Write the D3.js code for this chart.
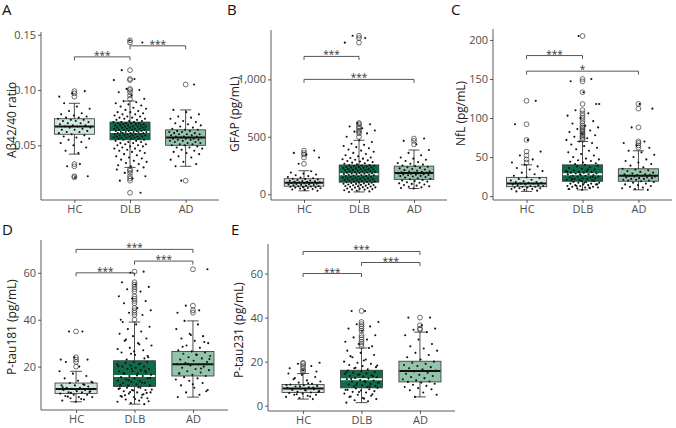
<!DOCTYPE html>
<html>
<head>
<meta charset="utf-8">
<script src="https://cdn.jsdelivr.net/npm/d3@7"></script>
<style>
body { margin: 0; background: #fff; }
svg { display: block; font-family: "Open Sans", sans-serif; }
</style>
</head>
<body>
<script>
var groups = ["HC", "DLB", "AD"]

// box stats per group: [lower whisker, q1, median, q3, upper whisker]
var abStats = [[0.042, 0.060, 0.067, 0.074, 0.088], [0.030, 0.055, 0.062, 0.071, 0.090], [0.031, 0.050, 0.057, 0.064, 0.082]]
var abOutliers = [[0.099, 0.097, 0.094, 0.033, 0.031, 0.022, 0.021],
    [0.092, 0.095, 0.098, 0.100, 0.101, 0.109, 0.110, 0.118, 0.143, 0.145, 0.028, 0.027, 0.025, 0.022, 0.020, 0.018, 0.007],
    [0.105, 0.018]]
var abHC = [0.043, 0.045, 0.048, 0.050, 0.052, 0.053, 0.055, 0.056, 0.057, 0.058, 0.059, 0.060, 0.061, 0.062, 0.062, 0.063, 0.064, 0.064, 0.065, 0.066, 0.066, 0.067, 0.067, 0.068, 0.068, 0.069, 0.070, 0.070, 0.071, 0.072, 0.072, 0.073, 0.073, 0.074, 0.075, 0.075, 0.076, 0.077, 0.078, 0.079, 0.081, 0.083, 0.085, 0.088, 0.099, 0.097, 0.094, 0.033, 0.031, 0.022, 0.021]
var abDLB = [0.030, 0.031, 0.032, 0.033, 0.034, 0.035, 0.036, 0.037, 0.038, 0.039, 0.040, 0.041, 0.042, 0.043, 0.044, 0.045, 0.045, 0.046, 0.047, 0.047, 0.048, 0.049, 0.049, 0.050, 0.050, 0.051, 0.051, 0.052, 0.052, 0.053, 0.053, 0.054, 0.054, 0.055, 0.055,
    0.056, 0.056, 0.056, 0.057, 0.057, 0.057, 0.057, 0.058, 0.058, 0.058, 0.058, 0.059, 0.059, 0.059, 0.059, 0.060, 0.060, 0.060, 0.060, 0.061, 0.061, 0.061, 0.061, 0.062, 0.062, 0.062, 0.062, 0.062, 0.063, 0.063, 0.063, 0.063, 0.064, 0.064, 0.064, 0.064, 0.065, 0.065, 0.065, 0.065, 0.066, 0.066, 0.066, 0.066, 0.067, 0.067, 0.067, 0.067, 0.068, 0.068, 0.068, 0.068, 0.069, 0.069, 0.069, 0.070, 0.070, 0.070, 0.070, 0.071, 0.071, 0.071,
    0.072, 0.072, 0.073, 0.073, 0.074, 0.074, 0.075, 0.075, 0.076, 0.076, 0.077, 0.078, 0.078, 0.079, 0.080, 0.080, 0.081, 0.082, 0.083, 0.084, 0.085, 0.086, 0.087, 0.088, 0.089, 0.090,
    0.092, 0.095, 0.098, 0.100, 0.101, 0.109, 0.110, 0.118, 0.143, 0.145, 0.028, 0.027, 0.025, 0.022, 0.020, 0.018, 0.007]
var abAD = [0.031, 0.033, 0.035, 0.037, 0.039, 0.040, 0.042, 0.043, 0.044, 0.045, 0.046, 0.047, 0.048, 0.048, 0.049, 0.050, 0.050,
    0.051, 0.051, 0.052, 0.052, 0.053, 0.053, 0.054, 0.054, 0.055, 0.055, 0.055, 0.056, 0.056, 0.056, 0.057, 0.057, 0.057, 0.058, 0.058, 0.058, 0.059, 0.059, 0.060, 0.060, 0.060, 0.061, 0.061, 0.062, 0.062, 0.063, 0.063, 0.064, 0.064,
    0.065, 0.066, 0.067, 0.068, 0.069, 0.070, 0.071, 0.072, 0.074, 0.075, 0.076, 0.078, 0.080, 0.082, 0.105, 0.018]
var abTicks = [0.05, 0.10, 0.15]
var abBrackets = [["HC", "DLB", 0.130, "***"], ["DLB", "AD", 0.140, "***"]]

var gfapStats = [[30, 70, 100, 135, 205], [20, 105, 175, 255, 470], [50, 130, 185, 245, 385]]
var gfapOutliers = [[265, 320, 345, 360, 380],
    [500, 530, 545, 555, 575, 590, 610, 620, 1320, 1360, 1380],
    [435, 465, 485]]
var gfapHC = [30, 38, 42, 45, 50, 52, 55, 58, 60, 62, 65, 68, 70, 72, 75, 78, 80, 82, 85, 88, 90, 92, 95, 98, 100, 102, 105, 108, 110, 112, 115, 118, 120, 124, 128, 132, 135, 140, 145, 150, 158, 165, 172, 180, 190, 200, 265, 320, 345, 360, 380]
var gfapDLB = [20, 25, 30, 35, 40, 42, 45, 48, 50, 55, 58, 60, 62, 65, 68, 70, 72, 75, 78, 80, 82, 85, 88, 90, 92, 95, 98, 100, 102, 105,
    108, 110, 112, 115, 118, 120, 122, 125, 128, 130, 132, 135, 138, 140, 142, 145, 148, 150, 152, 155, 158, 160, 162, 165, 168, 170, 172, 175, 176, 178, 180, 182, 185, 188, 190, 192, 195, 198, 200, 202, 205, 208, 210, 212, 215, 218, 220, 222, 225, 228, 230, 232, 235, 238, 240, 242, 245, 248, 250, 252, 255,
    260, 265, 270, 275, 280, 285, 290, 295, 300, 305, 310, 315, 320, 330, 340, 350, 360, 370, 380, 390, 400, 410, 420, 430, 440, 455, 470,
    500, 530, 545, 555, 575, 590, 610, 620, 1320, 1360, 1380]
var gfapAD = [50, 55, 60, 65, 70, 75, 80, 85, 90, 95, 100, 105, 110, 115, 120, 125, 130,
    135, 140, 145, 150, 155, 158, 160, 165, 168, 170, 172, 175, 178, 180, 182, 185, 188, 190, 192, 195, 198, 200, 205, 210, 215, 220, 225, 230, 235, 240, 245,
    250, 258, 265, 272, 280, 290, 300, 310, 320, 340, 360, 385, 435, 465, 485]
var gfapTicks = [0, 500, 1000]
var gfapBrackets = [["HC", "DLB", 1200, "***"], ["HC", "AD", 1000, "***"]]

var nflStats = [[6, 12, 16, 24, 40], [8, 19, 28, 40, 70], [8, 19, 26, 35, 58]]
var nflOutliers = [[43, 47, 52, 57, 72, 92, 122],
    [72, 74, 76, 78, 80, 82, 84, 86, 88, 90, 93, 96, 100, 103, 106, 110, 118, 133, 147, 150, 205],
    [62, 65, 68, 70, 88, 112, 118]]
var nflHC = [6, 7, 8, 9, 9, 10, 10, 11, 11, 12, 12, 13, 13, 14, 14, 15, 15, 16, 16, 17, 17, 18, 18, 19, 20, 21, 22, 23, 24, 26, 28, 30, 32, 34, 36, 38, 40, 43, 47, 52, 57, 72, 92, 122]
var nflDLB = [8, 9, 10, 10, 11, 11, 12, 12, 13, 13, 14, 14, 15, 15, 16, 16, 17, 17, 18, 18, 19, 19, 9, 11, 13, 15, 17,
    20, 20, 21, 21, 22, 22, 23, 23, 24, 24, 25, 25, 26, 26, 27, 27, 28, 28, 29, 29, 30, 30, 31, 31, 32, 32, 33, 34, 35, 36, 37, 38, 39, 40, 22, 25, 28, 31, 34,
    41, 42, 43, 44, 45, 46, 47, 48, 50, 52, 54, 56, 58, 60, 62, 64, 66, 68, 70,
    72, 74, 76, 78, 80, 82, 84, 86, 88, 90, 93, 96, 100, 103, 106, 110, 118, 133, 147, 150, 205, 118]
var nflAD = [8, 9, 10, 11, 12, 13, 14, 15, 16, 17, 18, 19, 20, 20, 21, 21, 22, 22, 23, 23, 24, 24, 25, 25, 26, 26, 27, 27, 28, 28, 29, 30, 31, 32, 33, 34, 35,
    37, 39, 41, 43, 45, 47, 50, 53, 56, 58, 62, 65, 68, 70, 88, 112, 118]
var nflTicks = [0, 50, 100, 150, 200]
var nflBrackets = [["HC", "DLB", 180, "***"], ["HC", "AD", 160, "*"]]

var pt181Stats = [[5, 8.5, 10.5, 13, 18], [4, 11.5, 16, 22.5, 39], [7, 16, 21, 26.5, 39.5]]
var pt181Outliers = [[20, 22, 23, 24, 35],
    [40, 42, 43, 44, 45, 47, 48, 49, 50, 52, 53, 54, 55, 56, 60.5],
    [43, 44, 46, 61.5]]
var pt181HC = [5, 5.5, 6, 6.5, 7, 7, 7.5, 8, 8, 8.5, 9, 9, 9.5, 9.5, 10, 10, 10.5, 10.5, 11, 11, 11.5, 12, 12, 12.5, 13, 13.5, 14, 15, 16, 17, 18,
    6.2, 7.2, 9.2, 10.2, 11.2, 12.2, 8.8, 13.2, 20, 22, 23, 24, 23, 35, 35]
var pt181DLB = [4, 4.5, 5, 5.5, 6, 6.5, 7, 7.5, 8, 8.5, 9, 9, 9.5, 10, 10, 10.5, 11, 11, 5.2, 6.2, 7.2, 8.2, 9.2, 10.2, 11.2, 7.8, 8.8, 9.8, 10.8, 6.8,
    12, 12, 12.5, 13, 13, 13.5, 14, 14, 14.5, 15, 15, 15.5, 16, 16, 16.5, 17, 17, 17.5, 18, 18, 18.5, 19, 19, 19.5, 20, 20, 20.5, 21, 21, 21.5, 22, 22,
    12.2, 13.2, 14.2, 15.2, 16.2, 17.2, 18.2, 19.2, 20.2, 21.2,
    23, 24, 25, 26, 27, 28, 29, 30, 31, 32, 33, 34, 35, 36, 37, 38, 39, 23.5, 25.5, 27.5, 29.5, 31.5, 24.5, 26.5,
    40, 42, 43, 44, 45, 47, 48, 49, 50, 52, 53, 54, 55, 56, 60.5, 60]
var pt181AD = [7, 8, 9, 10, 11, 12, 13, 14, 14.5, 15, 15.5, 16, 16.5, 17, 17.5, 18, 18.5, 19, 19.5, 20, 20.5, 21, 21, 21.5, 22, 22.5, 23, 23.5, 24, 24.5, 25, 25.5, 26, 26.5,
    27, 28, 29, 30, 31, 32, 33, 34, 36, 38, 39.5, 9.5, 12.5, 17.2, 19.2, 21.2, 23.2, 25.2, 28.5, 30.5, 33.5, 43, 44, 46, 61.5]
var pt181Ticks = [20, 40, 60]
var pt181Brackets = [["HC", "AD", 70, "***"], ["DLB", "AD", 65, "***"], ["HC", "DLB", 60, "***"]]

var pt231Stats = [[3, 6, 7.8, 9.6, 14.6], [1.4, 8.1, 12, 16.1, 26.2], [4, 10.8, 15.8, 20.2, 33.4]]
var pt231Outliers = [[15.5, 16, 17, 18, 19, 19.5],
    [27, 28, 29, 30, 31, 32, 34, 35, 36, 37, 38, 43],
    [34.5, 35, 36.5, 40]]
var pt231HC = [3, 3.5, 4, 4.5, 5, 5, 5.5, 5.8, 6, 6.3, 6.6, 6.9, 7.2, 7.5, 7.8, 8.1, 8.4, 8.7, 9, 9.3, 9.6, 10, 10.5, 11, 11.5, 12, 13, 14, 14.6,
    4.2, 5.2, 6.2, 7.1, 7.6, 8.2, 8.8, 9.4, 10.2, 12.5, 15.5, 16, 17, 18, 19, 19.5]
var pt231DLB = [1.4, 2, 2.5, 3, 3.5, 4, 4.5, 5, 5.5, 6, 6.3, 6.6, 6.9, 7.2, 7.5, 7.8, 8.1, 3.2, 4.2, 5.2, 6.2, 7.2,
    8.4, 8.7, 9, 9.3, 9.6, 9.9, 10.2, 10.5, 10.8, 11.1, 11.4, 11.7, 12, 12.3, 12.6, 12.9, 13.2, 13.5, 13.8, 14.1, 14.4, 14.7, 15, 15.3, 15.6, 16, 8.6, 9.4, 10.4, 11.2, 12.2, 13.4, 14.2, 15.2,
    16.5, 17, 17.5, 18, 18.5, 19, 19.5, 20, 21, 22, 23, 24, 25, 26.2, 17.2, 18.2, 20.5, 22.5,
    27, 28, 29, 30, 31, 32, 34, 35, 36, 37, 38, 43, 43]
var pt231AD = [4, 5, 6, 7, 7.5, 8, 8.5, 9, 9.5, 10, 10.5, 10.8, 11, 11.5, 12, 12.5, 13, 13.5, 14, 14.5, 15, 15.5, 16, 16.5, 17, 17.5, 18, 18.5, 19, 19.5, 20,
    21, 22, 23, 24, 25, 26, 27, 28, 30, 32, 33.4, 34.5, 35, 36.5, 40, 40]
var pt231Ticks = [0, 20, 40, 60]
var pt231Brackets = [["HC", "AD", 70, "***"], ["DLB", "AD", 65, "***"], ["HC", "DLB", 60, "***"]]

var boxFill = ["#d3e8dc", "#0f6b48", "#94c3ab"]
var medianColor = ["#111", "#fff", "#111"]

var panels = [
    { letter: "A", title: "A\u03b242/40 ratio", stats: abStats, outliers: abOutliers, points: [abHC, abDLB, abAD],
      domain: [0.0005, 0.1525], ticks: abTicks, fmt: d3.format(".2f"), brackets: abBrackets,
      x0: 41, x1: 219, y0: 200, y1: 32, titleX: 12, titleStart: 158, letterX: 2, letterY: 15 },
    { letter: "B", title: "GFAP (pg/mL)", stats: gfapStats, outliers: gfapOutliers, points: [gfapHC, gfapDLB, gfapAD],
      domain: [-50, 1430], ticks: gfapTicks, fmt: d3.format(","), brackets: gfapBrackets,
      x0: 271, x1: 447, y0: 200, y1: 30, titleX: 235, titleStart: 152, letterX: 227, letterY: 15 },
    { letter: "C", title: "NfL (pg/mL)", stats: nflStats, outliers: nflOutliers, points: [nflHC, nflDLB, nflAD],
      domain: [-5, 214], ticks: nflTicks, fmt: d3.format("d"), brackets: nflBrackets,
      x0: 493, x1: 672, y0: 200, y1: 29, titleX: 461, titleStart: 146, letterX: 451, letterY: 15 },
    { letter: "D", title: "P-tau181 (pg/mL)", stats: pt181Stats, outliers: pt181Outliers, points: [pt181HC, pt181DLB, pt181AD],
      domain: [1.5, 74], ticks: pt181Ticks, fmt: d3.format("d"), brackets: pt181Brackets,
      x0: 41, x1: 228, y0: 410, y1: 240, titleX: 12, titleStart: 375, letterX: 2, letterY: 235 },
    { letter: "E", title: "P-tau231 (pg/mL)", stats: pt231Stats, outliers: pt231Outliers, points: [pt231HC, pt231DLB, pt231AD],
      domain: [-2.4, 73.4], ticks: pt231Ticks, fmt: d3.format("d"), brackets: pt231Brackets,
      x0: 268, x1: 455, y0: 411, y1: 244, titleX: 239, titleStart: 378, letterX: 231, letterY: 235 }
]

var svg = d3.select("body").append("svg")
    .attr("width", 676)
    .attr("height", 428)

// golden-ratio offsets, so the jitter is fixed from run to run
function jitter(i, k) {
    return ((i + 1) * 0.6180339887 + k * 0.29) % 1 - 0.5
}

panels.forEach(function (p, pi) {
    var g = svg.append("g")

    var x = d3.scalePoint().domain(groups).range([p.x0, p.x1]).padding(0.6)
    var y = d3.scaleLinear().domain(p.domain).range([p.y0, p.y1])
    var step = x.step()
    var bw = step * 0.72
    var capW = step * 0.2

    // axes
    var yAxis = g.append("g")
        .attr("transform", "translate(" + p.x0 + ",0)")
        .call(d3.axisLeft(y).tickValues(p.ticks).tickFormat(p.fmt).tickSize(3).tickPadding(2))
    var xAxis = g.append("g")
        .attr("transform", "translate(0," + p.y0 + ")")
        .call(d3.axisBottom(x).tickSize(3).tickPadding(2))
    ;[yAxis, xAxis].forEach(function (a) {
        a.select(".domain").attr("stroke", "#333").attr("stroke-width", 0.8)
        a.selectAll(".tick line").attr("stroke", "#333").attr("stroke-width", 0.8)
        a.selectAll("text").attr("font-size", 11).attr("fill", "#4d4d4d").attr("font-family", "Open Sans")
    })
    yAxis.select(".domain").attr("d", "M0," + p.y0 + "V" + p.y1)
    xAxis.select(".domain").attr("d", "M" + p.x0 + ",0H" + p.x1)

    groups.forEach(function (grp, gi) {
        var s = p.stats[gi]
        var cx = x(grp)

        // whiskers with caps
        var wg = g.append("g").attr("stroke", "#222").attr("stroke-width", 0.8)
        wg.append("line").attr("x1", cx).attr("x2", cx).attr("y1", y(s[0])).attr("y2", y(s[4]))
        wg.append("line").attr("x1", cx - capW / 2).attr("x2", cx + capW / 2).attr("y1", y(s[0])).attr("y2", y(s[0]))
        wg.append("line").attr("x1", cx - capW / 2).attr("x2", cx + capW / 2).attr("y1", y(s[4])).attr("y2", y(s[4]))

        g.append("rect")
            .attr("x", cx - bw / 2)
            .attr("width", bw)
            .attr("y", y(s[3]))
            .attr("height", y(s[1]) - y(s[3]))
            .attr("fill", boxFill[gi])
            .attr("stroke", "#333")
            .attr("stroke-width", 0.8)

        g.append("line")
            .attr("x1", cx - bw / 2 + 0.5).attr("x2", cx + bw / 2 - 0.5)
            .attr("y1", y(s[2])).attr("y2", y(s[2]))
            .attr("stroke", medianColor[gi])
            .attr("stroke-width", 2)

        // outliers drawn at the box centre
        g.selectAll(null)
            .data(p.outliers[gi])
            .enter()
            .append("circle")
            .attr("cx", cx)
            .attr("cy", function (d) { return y(d) })
            .attr("r", 2.4)
            .attr("fill", "none")
            .attr("stroke", "#333")
            .attr("stroke-width", 0.7)

        g.selectAll(null)
            .data(p.points[gi])
            .enter()
            .append("circle")
            .attr("cx", function (d, i) { return cx + jitter(i, gi + pi) * step * 0.6 })
            .attr("cy", function (d) { return y(d) })
            .attr("r", 1.05)
            .attr("fill", "#111")
    })

    // significance brackets
    p.brackets.forEach(function (b) {
        var xa = x(b[0]), xb = x(b[1]), yy = y(b[2])
        g.append("path")
            .attr("d", "M" + xa + "," + (yy + 3.5) + "V" + yy + "H" + xb + "V" + (yy + 3.5))
            .attr("fill", "none")
            .attr("stroke", "#444")
            .attr("stroke-width", 0.9)
        g.append("text")
            .attr("x", (xa + xb) / 2)
            .attr("y", yy + 2)
            .attr("text-anchor", "middle")
            .attr("font-size", 10)
            .attr("fill", "#333")
            .text(b[3])
    })

    // y title, starting at a fixed point and running upwards
    g.append("text")
        .attr("transform", "translate(" + p.titleX + "," + p.titleStart + ") rotate(-90)")
        .attr("text-anchor", "start")
        .attr("dy", "0.35em")
        .attr("font-size", 12)
        .attr("fill", "#222")
        .text(p.title)

    g.append("text")
        .attr("x", p.letterX)
        .attr("y", p.letterY)
        .attr("font-size", 15)
        .attr("fill", "#111")
        .text(p.letter)
})
</script>
</body>
</html>
